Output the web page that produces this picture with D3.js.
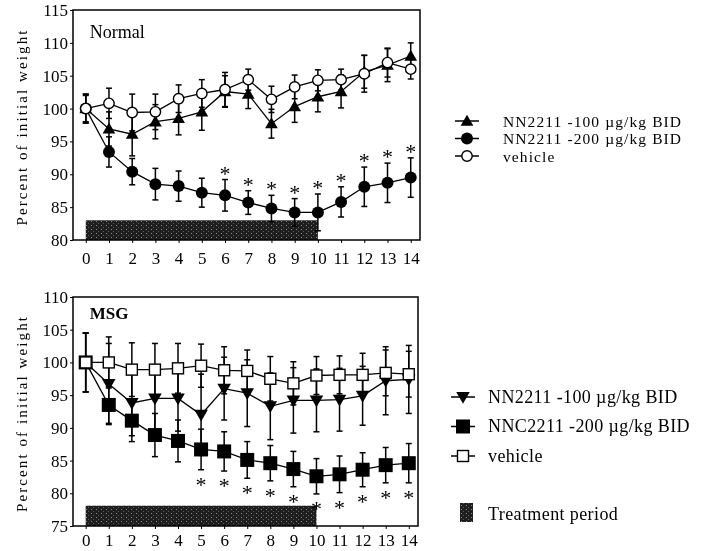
<!DOCTYPE html>
<html>
<head>
<meta charset="utf-8">
<script src="https://cdn.jsdelivr.net/npm/d3@7"></script>
<style>
  body { margin: 0; background: #fff; }
  svg { will-change: transform; }
  svg text { font-family: "Liberation Serif", "Times New Roman", serif; fill: #000; }
</style>
</head>
<body>
<div class="container"></div>
<script>
// Days of study
const days = [0, 1, 2, 3, 4, 5, 6, 7, 8, 9, 10, 11, 12, 13, 14]
const treatmentDays = [0, 10]

// Normal rats
const normal100 = [100, 96.9, 96.1, 98.0, 98.5, 99.5, 102.6, 102.2, 97.7, 100.3, 101.8, 102.6, 105.6, 106.6, 108.0]
const normal100Err = [2.2, 2.6, 3.3, 2.6, 2.5, 2.8, 2.4, 2.2, 2.2, 2.4, 2.3, 2.5, 2.5, 2.5, 2.0]
const normal200 = [100, 93.4, 90.4, 88.5, 88.2, 87.2, 86.8, 85.7, 84.8, 84.2, 84.2, 85.8, 88.1, 88.7, 89.5]
const normal200Err = [2.2, 2.3, 2.0, 2.4, 2.3, 2.2, 2.4, 1.8, 2.0, 2.1, 2.8, 2.3, 3.0, 3.0, 3.0]
const normalVehicle = [100, 100.8, 99.4, 99.5, 101.5, 102.3, 102.9, 104.4, 101.4, 103.3, 104.3, 104.4, 105.3, 107.0, 106.0]
const normalVehicleErr = [2.0, 2.3, 2.8, 2.7, 2.1, 2.1, 2.6, 1.6, 2.0, 1.8, 1.6, 1.6, 2.8, 2.2, 1.5]
const normalStars = [6, 7, 8, 9, 10, 11, 12, 13, 14]
const normalTicks = [80, 85, 90, 95, 100, 105, 110, 115]

// MSG rats
const msg100 = [100, 96.7, 93.8, 94.5, 94.5, 92.0, 96.0, 95.3, 93.3, 94.2, 94.2, 94.3, 94.9, 97.2, 97.4]
const msg100Err = [4.5, 6.2, 5.0, 5.0, 5.0, 6.2, 4.8, 5.1, 5.1, 5.0, 4.8, 4.8, 4.5, 5.2, 5.2]
const msg200 = [100, 93.5, 91.1, 88.9, 88.0, 86.7, 86.4, 85.1, 84.6, 83.7, 82.6, 82.9, 83.6, 84.3, 84.6]
const msg200Err = [4.5, 2.8, 3.2, 3.3, 3.2, 3.1, 3.0, 2.8, 2.7, 2.7, 2.7, 2.8, 2.6, 2.7, 3.0]
const msgVehicle = [100, 100, 98.9, 98.9, 99.1, 99.5, 98.8, 98.7, 97.5, 96.8, 98.0, 98.1, 98.1, 98.4, 98.2]
const msgVehicleErr = [4.5, 3.9, 4.1, 4.0, 3.8, 3.3, 3.6, 3.2, 3.4, 3.3, 2.9, 2.9, 3.3, 3.5, 3.5]
const msgStars = [5, 6, 7, 8, 9, 10, 11, 12, 13, 14]
const msgTicks = [75, 80, 85, 90, 95, 100, 105, 110]

const normalLabels = ["NN2211 -100 \u00b5g/kg BID", "NN2211 -200 \u00b5g/kg BID", "vehicle"]
const msgLabels = ["NN2211 -100 \u00b5g/kg BID", "NNC2211 -200 \u00b5g/kg BID", "vehicle"]

const svg = d3.select(".container")
    .append("svg")
    .attr("width", 707)
    .attr("height", 551)
    .attr("font-family", "Liberation Serif")

// dithered fill for the treatment bar
const pat = svg.append("defs").append("pattern")
    .attr("id", "dither")
    .attr("width", 5).attr("height", 4)
    .attr("patternUnits", "userSpaceOnUse")
pat.append("rect").attr("width", 5).attr("height", 4).attr("fill", "#1e1e1e")
pat.append("rect").attr("x", 1).attr("y", 1).attr("width", 1).attr("height", 1).attr("fill", "#8a8a8a")
pat.append("rect").attr("x", 3).attr("y", 3).attr("width", 1).attr("height", 1).attr("fill", "#5a5a5a")

// marker drawing
function marker(g, shape, cx, cy) {
    switch (shape) {
    case "triUp":
        g.append("path").attr("d", d3.symbol(d3.symbolTriangle, 70)())
            .attr("transform", `translate(${cx},${cy + 1})`).attr("fill", "black")
        break
    case "triDown":
        g.append("path").attr("d", d3.symbol(d3.symbolTriangle, 80)())
            .attr("transform", `translate(${cx},${cy - 1}) rotate(180)`).attr("fill", "black")
        break
    case "dot":
        g.append("circle").attr("cx", cx).attr("cy", cy).attr("r", 6).attr("fill", "black")
        break
    case "ring":
        g.append("circle").attr("cx", cx).attr("cy", cy).attr("r", 5.2)
            .attr("fill", "white").attr("stroke", "black").attr("stroke-width", 1.4)
        break
    case "bigSquare":
        g.append("rect").attr("x", cx - 7).attr("y", cy - 7).attr("width", 14).attr("height", 14).attr("fill", "black")
        break
    case "openSquare":
        g.append("rect").attr("x", cx - 5.5).attr("y", cy - 5.5).attr("width", 11).attr("height", 11)
            .attr("fill", "white").attr("stroke", "black").attr("stroke-width", 1.4)
        break
    }
}

function drawPanel(p) {
    const x = d3.scaleLinear().domain([-0.55, 14.4]).range([p.left, p.right])
    const y = d3.scaleLinear().domain([p.ticks[0], p.ticks[p.ticks.length - 1]]).range([p.bottom, p.top])
    const g = svg.append("g")

    // treatment period bar
    g.append("rect")
        .attr("x", x(treatmentDays[0]))
        .attr("y", y(p.barTop))
        .attr("width", x(treatmentDays[1]) - x(treatmentDays[0]))
        .attr("height", y(p.ticks[0]) - y(p.barTop))
        .attr("fill", "url(#dither)")

    // axes
    const xAxis = g.append("g")
        .attr("transform", `translate(0,${p.bottom})`)
        .call(d3.axisBottom(x).tickValues(days).tickSize(3).tickPadding(p.xPad))
    xAxis.select(".domain").remove()
    xAxis.selectAll("text").attr("font-size", 17)

    const yAxis = g.append("g")
        .attr("transform", `translate(${p.left},0)`)
        .call(d3.axisLeft(y).tickValues(p.ticks).tickSize(3).tickPadding(2))
    yAxis.select(".domain").remove()
    yAxis.selectAll("text").attr("font-size", 17)

    // frame
    g.append("rect")
        .attr("x", p.left).attr("y", p.top)
        .attr("width", p.right - p.left).attr("height", p.bottom - p.top)
        .attr("fill", "none").attr("stroke", "black").attr("stroke-width", 1.5)

    // y title
    g.append("text")
        .text("Percent of initial weight")
        .attr("transform", `translate(${p.titleX},${(p.top + p.bottom) / 2 + 2}) rotate(-90)`)
        .attr("text-anchor", "middle")
        .attr("font-size", 15)
        .attr("letter-spacing", 2.1)

    // panel label
    g.append("text")
        .text(p.name)
        .attr("x", x(0) + 4)
        .attr("y", p.top + p.nameDy)
        .attr("font-size", p.nameSize)
        .attr("font-weight", p.nameWeight)

    const line = d3.line().x((d, i) => x(days[i])).y(d => y(d))

    p.series.forEach(s => {
        // error bars
        const eb = g.append("g").attr("stroke", "black").attr("stroke-width", 1.5)
        s.values.forEach((v, i) => {
            const cx = x(days[i])
            const y1 = y(v + s.errs[i]), y2 = y(v - s.errs[i])
            eb.append("line").attr("x1", cx).attr("x2", cx).attr("y1", y1).attr("y2", y2)
            eb.append("line").attr("x1", cx - 3).attr("x2", cx + 3).attr("y1", y1).attr("y2", y1)
            eb.append("line").attr("x1", cx - 3).attr("x2", cx + 3).attr("y1", y2).attr("y2", y2)
        })
    })
    p.series.forEach(s => {
        g.append("path")
            .datum(s.values)
            .attr("d", line)
            .attr("fill", "none")
            .attr("stroke", "black")
            .attr("stroke-width", 1.3)
    })
    p.series.forEach(s => {
        s.values.forEach((v, i) => marker(g, s.shape, x(days[i]), y(v)))
    })

    // significance stars (against the 200 µg/kg group)
    const st = p.series[1]
    g.selectAll(".star")
        .data(p.stars)
        .enter()
        .append("text")
        .attr("class", "star")
        .text("*")
        .attr("text-anchor", "middle")
        .attr("font-size", 22)
        .attr("fill", "black")
        .attr("x", d => x(d))
        .attr("y", d => {
            const i = days.indexOf(d)
            return p.starAbove
                ? y(st.values[i] + st.errs[i]) + 1
                : y(st.values[i] - st.errs[i]) + 22
        })

    // legend
    const lg = g.append("g")
    p.series.forEach((s, i) => {
        const ly = p.legendY + i * p.legendStep
        lg.append("line")
            .attr("x1", p.legendX - 12).attr("x2", p.legendX + 12)
            .attr("y1", ly).attr("y2", ly)
            .attr("stroke", "black").attr("stroke-width", 1.5)
        marker(lg, s.shape, p.legendX, ly)
        lg.append("text")
            .text(p.labels[i])
            .attr("x", p.legendTextX)
            .attr("y", ly + 5.5)
            .attr("font-size", p.legendSize)
            .attr("letter-spacing", p.legendSpacing)
    })
}

drawPanel({
    name: "Normal", nameSize: 18, nameWeight: "normal", nameDy: 28,
    left: 73, right: 420, top: 10, bottom: 240,
    ticks: normalTicks, barTop: 83, xPad: 9, titleX: 27,
    series: [
        {values: normal100, errs: normal100Err, shape: "triUp"},
        {values: normal200, errs: normal200Err, shape: "dot"},
        {values: normalVehicle, errs: normalVehicleErr, shape: "ring"}
    ],
    stars: normalStars, starAbove: true,
    labels: normalLabels, legendSize: 15.5, legendSpacing: 1.1,
    legendX: 467, legendTextX: 503, legendY: 121, legendStep: 17.5
})

drawPanel({
    name: "MSG", nameSize: 17, nameWeight: "bold", nameDy: 22,
    left: 73, right: 418, top: 297, bottom: 526,
    ticks: msgTicks, barTop: 78.1, xPad: 5, titleX: 27,
    series: [
        {values: msg100, errs: msg100Err, shape: "triDown"},
        {values: msg200, errs: msg200Err, shape: "bigSquare"},
        {values: msgVehicle, errs: msgVehicleErr, shape: "openSquare"}
    ],
    stars: msgStars, starAbove: false,
    labels: msgLabels, legendSize: 18, legendSpacing: 0.4,
    legendX: 463, legendTextX: 488, legendY: 397, legendStep: 29.5
})

// treatment period key
svg.append("rect")
    .attr("x", 460).attr("y", 503).attr("width", 13).attr("height", 19)
    .attr("fill", "url(#dither)")
svg.append("text")
    .text("Treatment period")
    .attr("x", 488).attr("y", 520)
    .attr("font-size", 18)
    .attr("letter-spacing", 0.4)
</script>
</body>
</html>
